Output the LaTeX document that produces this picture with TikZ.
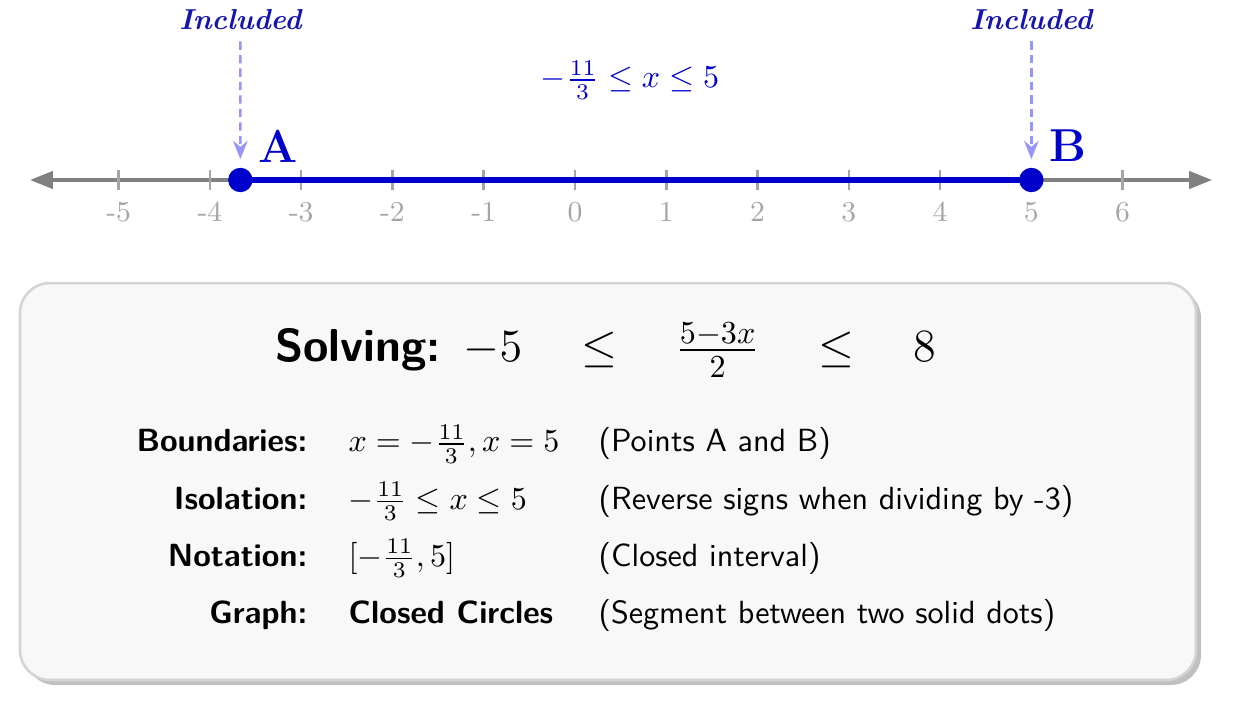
\documentclass[tikz,border=0pt]{standalone}
\usepackage{amsmath}
\usetikzlibrary{arrows.meta,shadows}
\definecolor{mainblue}{RGB}{0,0,204}
\definecolor{darkblue}{RGB}{20,20,175}
\definecolor{lightarrow}{RGB}{150,150,250}
\definecolor{axisgray}{RGB}{128,128,128}
\definecolor{tickgray}{RGB}{165,165,165}
\definecolor{boxfill}{RGB}{248,248,248}
\definecolor{boxdraw}{RGB}{212,212,212}
\definecolor{shadowgray}{RGB}{192,192,192}
\tikzset{
  axisline/.style={draw=axisgray, line width=1pt, {Triangle[length=2.5mm,width=1.9mm]}-{Triangle[length=2.5mm,width=1.9mm]}},
  tickmark/.style={draw=tickgray, line width=0.8pt},
  ticklabel/.style={text=tickgray, font=\small, anchor=base, inner sep=0pt},
  segline/.style={draw=mainblue, line width=2pt},
  soliddot/.style={circle, fill=mainblue, inner sep=0pt, minimum size=7.6pt},
  ptlabel/.style={text=mainblue, font=\Large\bfseries},
  inclabel/.style={text=darkblue, font=\small\bfseries\itshape},
  incarrow/.style={draw=lightarrow, line width=0.8pt, dash pattern=on 2.6pt off 1.6pt, -{Stealth[length=2mm,width=1.6mm]}, shorten >=2.5pt},
  infobox/.style={draw=boxdraw, line width=0.8pt, fill=boxfill, rounded corners=0.33cm,
     minimum width=12.885cm, minimum height=4.349cm, inner sep=0pt,
     drop shadow={shadow xshift=0.055cm, shadow yshift=-0.055cm, fill=shadowgray, opacity=1}},
  rowlabel/.style={anchor=base east, font=\sffamily\bfseries, inner sep=0pt},
  rowmath/.style={anchor=base west, font=\sffamily, inner sep=0pt},
  rowdesc/.style={anchor=base west, font=\sffamily, inner sep=0pt}
}
\begin{document}
\begin{tikzpicture}
\useasboundingbox (-6.300,-5.741) rectangle (7.242,1.972);

% axis
\coordinate (axL) at (-5.971,0);
\coordinate (axR) at (6.979,0);
\draw[axisline] (axL) -- (axR);
\foreach \i in {-5,...,6}{
  \draw[tickmark] (\i,0.11) -- (\i,-0.11);
  \node[ticklabel] (t\i) at (\i,-0.46) {\i};
}

% segment and dots
\coordinate (pA) at (-11/3,0);
\coordinate (pB) at (5,0);
\draw[segline] (pA) -- (pB);
\node[soliddot] (A) at (pA) {};
\node[soliddot] (B) at (pB) {};
\node[ptlabel] (labA) at (-3.254,0.373) {A};
\node[ptlabel] (labB) at (5.40,0.38) {B};

% included labels
\node[inclabel] (incA) at (-3.6667,1.753) {Included};
\node[inclabel] (incB) at (5,1.753) {Included};
\draw[incarrow] (incA.south) -- (A.north);
\draw[incarrow] (incB.south) -- (B.north);

% interval label
\node[text=mainblue] (ineq) at (0.603,1.096) {$-\frac{11}{3} \leq x \leq 5$};

% info box
\node[infobox] (box) at (0.3615,-3.3035) {};
\node[anchor=base, inner sep=0pt] (title) at (0.334,-1.991)
  {\Large\sffamily\bfseries Solving: \mdseries$-5 \quad\leq\quad \frac{5-3x}{2} \quad\leq\quad 8$};

\node[rowlabel] (l1) at (-2.925,-2.98) {Boundaries:};
\node[rowmath]  (m1) at (-2.487,-2.98) {$x = -\frac{11}{3}, x = 5$};
\node[rowdesc]  (d1) at (0.252,-2.98) {(Points A and B)};

\node[rowlabel] (l2) at (-2.925,-3.61) {Isolation:};
\node[rowmath]  (m2) at (-2.487,-3.61) {$-\frac{11}{3} \leq x \leq 5$};
\node[rowdesc]  (d2) at (0.252,-3.61) {(Reverse signs when dividing by -3)};

\node[rowlabel] (l3) at (-2.925,-4.235) {Notation:};
\node[rowmath]  (m3) at (-2.487,-4.235) {$[-\frac{11}{3}, 5]$};
\node[rowdesc]  (d3) at (0.252,-4.235) {(Closed interval)};

\node[rowlabel] (l4) at (-2.925,-4.855) {Graph:};
\node[rowmath]  (m4) at (-2.487,-4.855) {\bfseries Closed Circles};
\node[rowdesc]  (d4) at (0.252,-4.855) {(Segment between two solid dots)};
\end{tikzpicture}
\end{document}
